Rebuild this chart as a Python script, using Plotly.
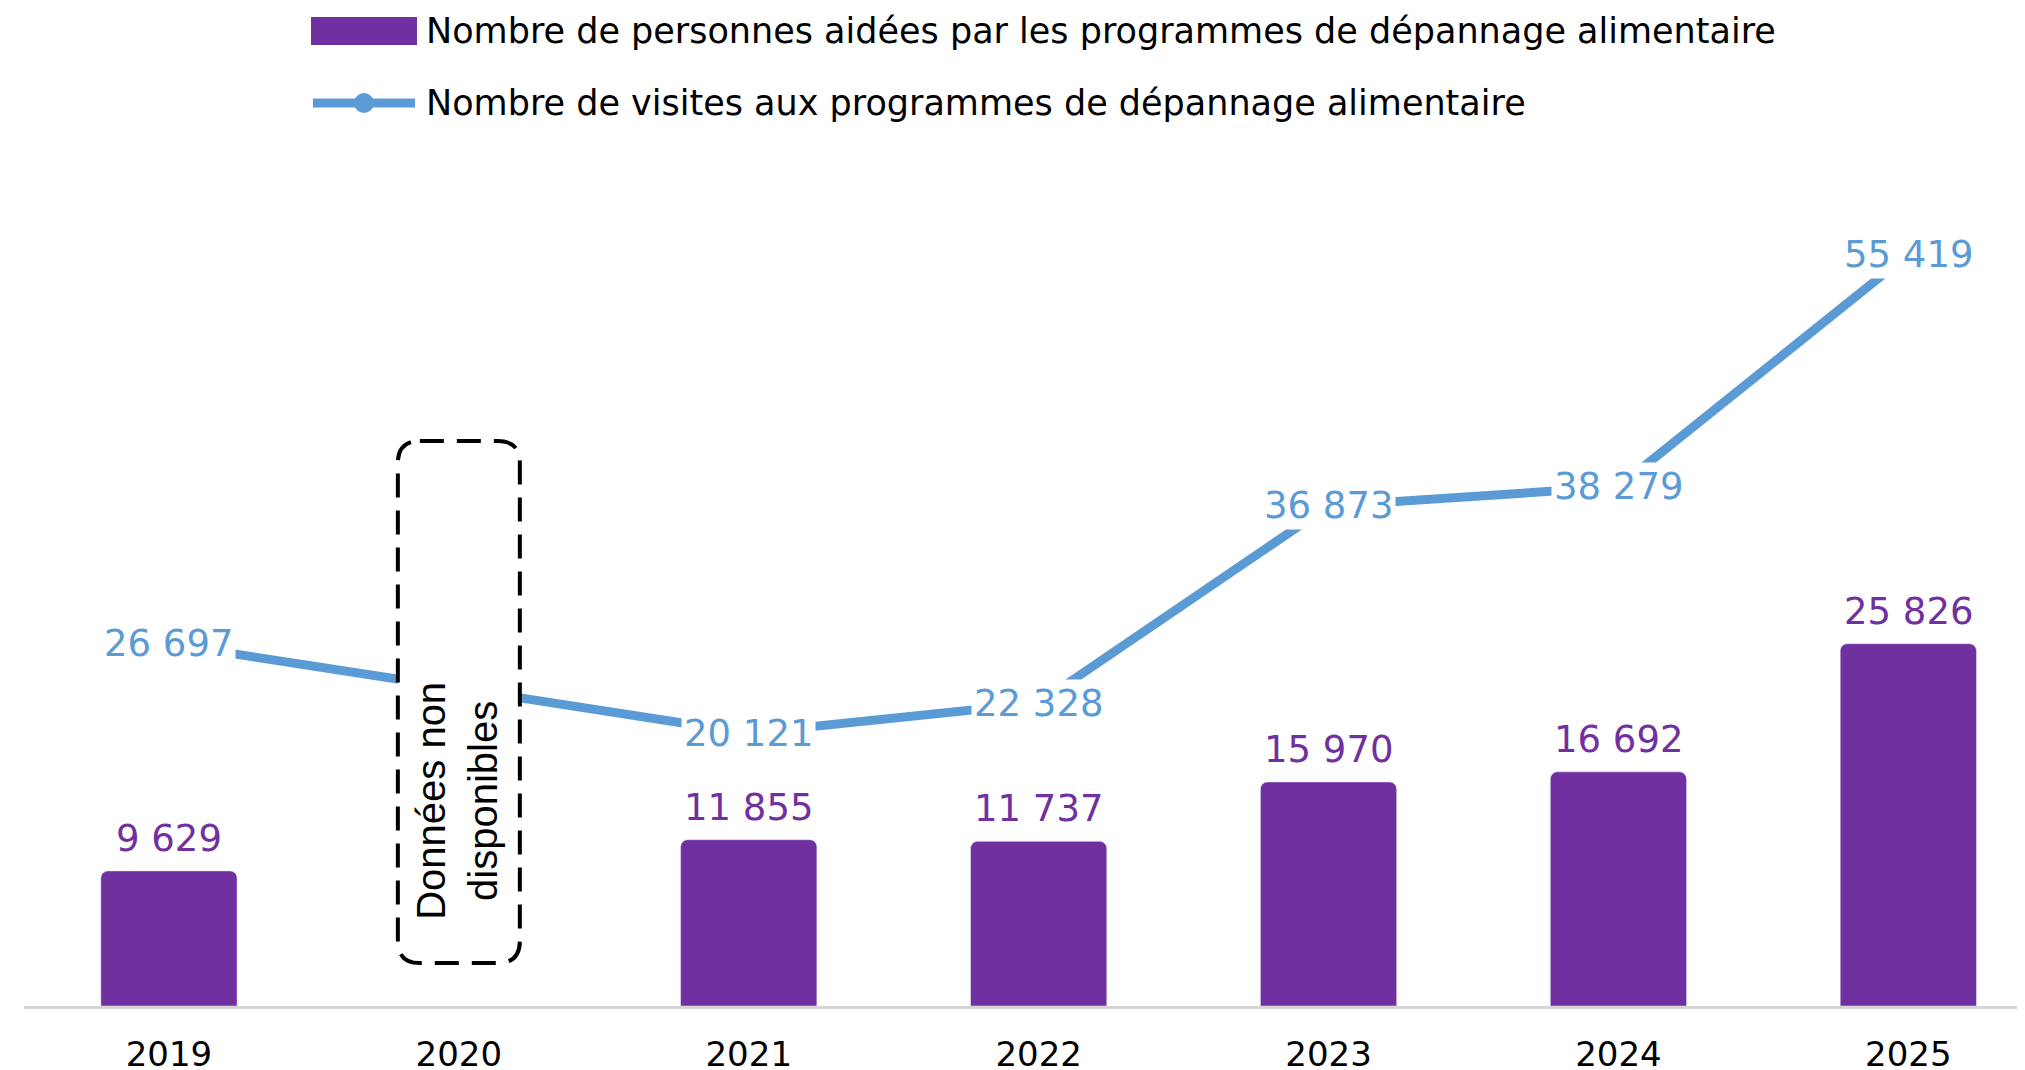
import plotly.graph_objects as go

# ---------------- data ----------------
years = ["2019", "2020", "2021", "2022", "2023", "2024", "2025"]
persons = [9629, None, 11855, 11737, 15970, 16692, 25826]
visits = [26697, None, 20121, 22328, 36873, 38279, 55419]
legend_labels = [
    "Nombre de personnes aidées par les programmes de dépannage alimentaire",
    "Nombre de visites aux programmes de dépannage alimentaire",
]
missing_year = "2020"
missing_text = "Données non<br>disponibles"

PURPLE = "#7030A0"
BLUE = "#5B9BD5"

# ---------------- layout geometry ----------------
W, H = 2025, 1070
ML, MR, MT, MB = 16, 0, 150, 72
PW, PH = W - ML - MR, H - MT - MB
XR = [-0.5, 6.43]


def px(x):
    return (x - ML) / PW


def py(y):
    return (H - MB - y) / PH


def fmt(v):
    return f"{v:,}".replace(",", " ")


fig = go.Figure()

fig.add_trace(go.Bar(
    x=years, y=persons, marker_color=PURPLE, width=0.47,
    name=legend_labels[0], showlegend=False, hoverinfo="skip",
))
fig.add_trace(go.Scatter(
    x=years, y=visits, yaxis="y2", mode="lines", connectgaps=True,
    line=dict(color=BLUE, width=9), name=legend_labels[1],
    showlegend=False, hoverinfo="skip",
))

annotations = []
for i, v in enumerate(persons):
    if v is None:
        continue
    annotations.append(dict(
        x=i, y=v, xref="x", yref="y", yanchor="bottom", yshift=9,
        text=fmt(v), showarrow=False,
        font=dict(family="DejaVu Sans", size=37, color=PURPLE),
    ))
for i, v in enumerate(visits):
    if v is None:
        continue
    annotations.append(dict(
        x=i, y=v, xref="x", yref="y2", xanchor="center", yanchor="middle",
        text=fmt(v), showarrow=False, bgcolor="white", borderpad=2,
        font=dict(family="DejaVu Sans", size=37, color=BLUE),
    ))

# "data not available" box around 2020
idx = years.index(missing_year)
cx = ML + (idx - XR[0]) / (XR[1] - XR[0]) * PW
bx0, bx1 = cx - 61, cx + 61
by0, by1 = 433, 955
r = 22


def P(x, y):
    return f"{px(x):.5f},{py(y):.5f}"


path = (
    f"M {P(bx0 + r, by0)} L {P(bx1 - r, by0)} Q {P(bx1, by0)} {P(bx1, by0 + r)} "
    f"L {P(bx1, by1 - r)} Q {P(bx1, by1)} {P(bx1 - r, by1)} "
    f"L {P(bx0 + r, by1)} Q {P(bx0, by1)} {P(bx0, by1 - r)} "
    f"L {P(bx0, by0 + r)} Q {P(bx0, by0)} {P(bx0 + r, by0)} Z"
)
shapes = [dict(
    type="path", path=path, xref="paper", yref="paper",
    line=dict(color="black", width=4, dash="24px,13px"),
    fillcolor="white", layer="above",
)]
annotations.append(dict(
    x=px(cx - 2), y=py(793), xref="paper", yref="paper",
    text=missing_text, textangle=-90, showarrow=False,
    font=dict(family="Liberation Sans", size=40, color="black"),
    xanchor="center", yanchor="middle",
))

# custom legend
shapes.append(dict(type="rect", xref="paper", yref="paper",
                   x0=px(303), x1=px(409), y0=py(37), y1=py(9),
                   fillcolor=PURPLE, line=dict(width=0)))
shapes.append(dict(type="line", xref="paper", yref="paper",
                   x0=px(305), x1=px(407), y0=py(95), y1=py(95),
                   line=dict(color=BLUE, width=9)))
shapes.append(dict(type="circle", xref="paper", yref="paper",
                   x0=px(346), x1=px(366), y0=py(105), y1=py(85),
                   fillcolor=BLUE, line=dict(width=0)))
for label, yc in zip(legend_labels, [23, 95]):
    annotations.append(dict(
        x=px(416), y=py(yc), xref="paper", yref="paper",
        xanchor="left", yanchor="middle", text=label, showarrow=False,
        font=dict(family="DejaVu Sans", size=35, color="black"),
    ))

fig.update_layout(
    width=W, height=H,
    margin=dict(l=ML, r=MR, t=MT, b=MB),
    paper_bgcolor="white", plot_bgcolor="white",
    barcornerradius=7,
    xaxis=dict(
        type="category", categoryorder="array", categoryarray=years,
        range=XR, showline=True, linecolor="#D4D4D4", linewidth=3,
        showgrid=False, ticks="", ticklabelstandoff=16,
        tickfont=dict(family="DejaVu Sans", size=34, color="black"),
    ),
    yaxis=dict(range=[0, 60450], visible=False),
    yaxis2=dict(range=[0, 62524], visible=False, overlaying="y"),
    shapes=shapes,
    annotations=annotations,
    showlegend=False,
)

fig.write_html("out.html")
